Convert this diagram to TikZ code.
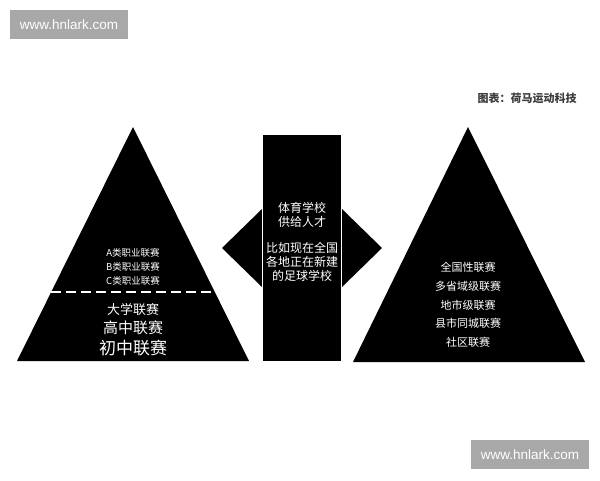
\documentclass[tikz,border=0pt]{standalone}
\usepackage{fontspec}
\setmainfont{Noto Sans CJK SC}
\newfontfamily\markfont{Liberation Sans}
\definecolor{markgray}{RGB}{168, 168, 168}
\definecolor{notegray}{RGB}{60, 60, 60}
\usepackage{tikz}
\usetikzlibrary{positioning}

\tikzset{
  block/.style={fill=black, draw=none},
  label/.style={text=white, align=center, inner sep=0pt},
  watermark/.style={fill=markgray, text=white, minimum width=118pt, minimum height=29pt, inner sep=0pt, font=\markfont\fontsize{13.5}{15}\selectfont}
}

\begin{document}
\begin{tikzpicture}[x=1pt, y=-1pt]
  \useasboundingbox[fill=white] (0,0) rectangle (600,480);

  % left pyramid
  \fill[block] (133,127) -- (249,361) -- (17,361) -- cycle;
  \draw[white, line width=2pt, dash pattern=on 10pt off 5pt] (51,292) -- (215,292);
  \node[label, font=\fontsize{9.5}{14}\selectfont] (pro) at (133,267) {A类职业联赛\\B类职业联赛\\C类职业联赛};
  \node[label, font=\fontsize{13}{13}\selectfont] (uni) at (133,310) {大学联赛};
  \node[label, font=\fontsize{15}{15}\selectfont] (high) at (133,328) {高中联赛};
  \node[label, font=\fontsize{17}{17}\selectfont] (mid) at (133,348) {初中联赛};

  % middle column with double arrow
  \fill[block] (262,209) -- (222,248) -- (262,287) -- cycle;
  \fill[block] (342,209) -- (382,248) -- (342,287) -- cycle;
  \fill[block] (263,135) rectangle (341,361);
  \draw[white, line width=0.6pt] (262.5,209) -- (262.5,287);
  \draw[white, line width=0.6pt] (341.5,209) -- (341.5,287);
  \node[label, font=\fontsize{12}{13.5}\selectfont] (supply) at (302,215) {体育学校\\供给人才};
  \node[label, font=\fontsize{12}{14}\selectfont] (school) at (302,262) {比如现在全国\\各地正在新建\\的足球学校};

  % right pyramid
  \fill[block] (468,127) -- (585,362) -- (353,362) -- cycle;
  \node[label, font=\fontsize{11}{18.7}\selectfont] (leagues) at (468,305) {全国性联赛\\多省域级联赛\\地市级联赛\\县市同城联赛\\社区联赛};

  % source note and watermarks
  \node[text=notegray, inner sep=0pt, font=\bfseries\fontsize{11}{12}\selectfont] (source) at (527,98) {图表：荷马运动科技};
  \node[watermark] (marktop) at (69,24.5) {www.hnlark.com};
  \node[watermark] (markbottom) at (530,454.5) {www.hnlark.com};
\end{tikzpicture}
\end{document}
